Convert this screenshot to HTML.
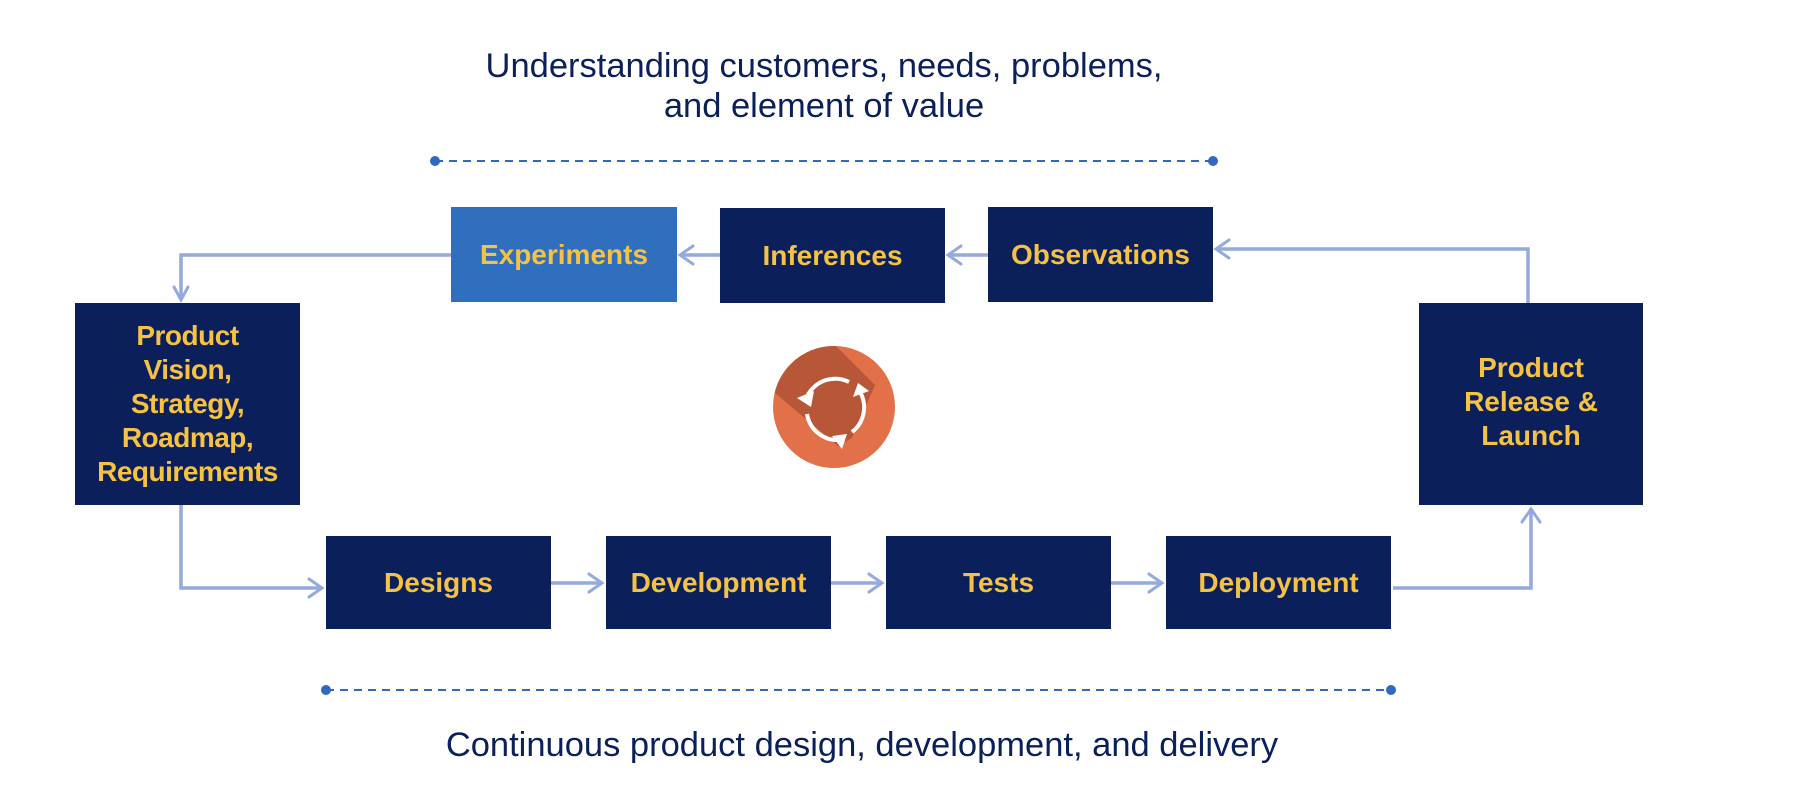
<!DOCTYPE html>
<html><head><meta charset="utf-8"><style>
html,body{margin:0;padding:0;background:#fff;}
body{width:1806px;height:812px;position:relative;overflow:hidden;font-family:"Liberation Sans",Arial,sans-serif;}
.b{position:absolute;background:#0b1f5a;color:#f6c243;font-weight:bold;font-size:28px;display:flex;align-items:center;justify-content:center;text-align:center;line-height:34px;}
.t{position:absolute;color:#0b1f5a;font-size:34.5px;text-align:center;line-height:40px;}
</style></head><body>
<div class="t" style="left:324px;top:46px;width:1000px;">Understanding customers, needs, problems,<br>and element of value</div>
<div class="t" style="left:262px;top:725px;width:1200px;">Continuous product design, development, and delivery</div>

<div class="b" style="left:451px;top:207px;width:226px;height:95px;background:#2f6fbd;">Experiments</div>
<div class="b" style="left:720px;top:208px;width:225px;height:95px;">Inferences</div>
<div class="b" style="left:988px;top:207px;width:225px;height:95px;">Observations</div>
<div class="b" style="left:75px;top:303px;width:225px;height:202px;letter-spacing:-0.5px;">Product<br>Vision,<br>Strategy,<br>Roadmap,<br>Requirements</div>
<div class="b" style="left:1419px;top:303px;width:224px;height:202px;align-items:flex-start;padding-top:48px;box-sizing:border-box;">Product<br>Release &amp;<br>Launch</div>
<div class="b" style="left:326px;top:536px;width:225px;height:93px;">Designs</div>
<div class="b" style="left:606px;top:536px;width:225px;height:93px;">Development</div>
<div class="b" style="left:886px;top:536px;width:225px;height:93px;">Tests</div>
<div class="b" style="left:1166px;top:536px;width:225px;height:93px;">Deployment</div>

<svg width="1806" height="812" style="position:absolute;left:0;top:0" xmlns="http://www.w3.org/2000/svg">
<g stroke="#3169c0" stroke-width="2" stroke-dasharray="8,6" fill="none">
<line x1="435" y1="161" x2="1213" y2="161"/>
<line x1="326" y1="690" x2="1391" y2="690"/>
</g>
<g fill="#3169c0"><circle cx="435" cy="161" r="5"/><circle cx="1213" cy="161" r="5"/><circle cx="326" cy="690" r="5"/><circle cx="1391" cy="690" r="5"/></g>
<g stroke="#94a9dc" stroke-width="3.5" fill="none">
<polyline points="451,255 181,255 181,300"/>
<line x1="720" y1="255" x2="680" y2="255"/>
<line x1="988" y1="255" x2="948" y2="255"/>
<polyline points="1528,303 1528,249 1216,249"/>
<polyline points="181,505 181,588 322,588"/>
<line x1="551" y1="583" x2="602" y2="583"/>
<line x1="831" y1="583" x2="882" y2="583"/>
<line x1="1111" y1="583" x2="1162" y2="583"/>
<polyline points="1393,588 1531,588 1531,509"/>
</g>
<g stroke="#94a9dc" stroke-width="3" fill="none" stroke-linecap="round">
<polyline points="174,287 181,300 188,287"/>
<polyline points="693,246 680,255 693,264"/>
<polyline points="961,246 948,255 961,264"/>
<polyline points="1229,240 1216,249 1229,258"/>
<polyline points="309,579 322,588 309,597"/>
<polyline points="589,574 602,583 589,592"/>
<polyline points="869,574 882,583 869,592"/>
<polyline points="1149,574 1162,583 1149,592"/>
<polyline points="1522,522 1531,509 1540,522"/>
</g>
<clipPath id="c"><circle cx="834" cy="407" r="61"/></clipPath>
<circle cx="834" cy="407" r="61" fill="#e2714a"/>
<polygon clip-path="url(#c)" points="780,290 875,385 852,438 838,446 700,330" fill="#b85737"/>
<g stroke="#fff" stroke-width="4" fill="none">
<path d="M806,399 A31,31 0 0 1 849,382"/>
<path d="M860,392 A31,31 0 0 1 852,432"/>
<path d="M840,440 A31,31 0 0 1 807,414"/>
</g>
<g fill="#fff">
<polygon points="797,398 814,391 811,407"/>
<polygon points="858,383 869,391 853,397"/>
<polygon points="847,434 842,449 832,436"/>
</g>
</svg>
</body></html>
